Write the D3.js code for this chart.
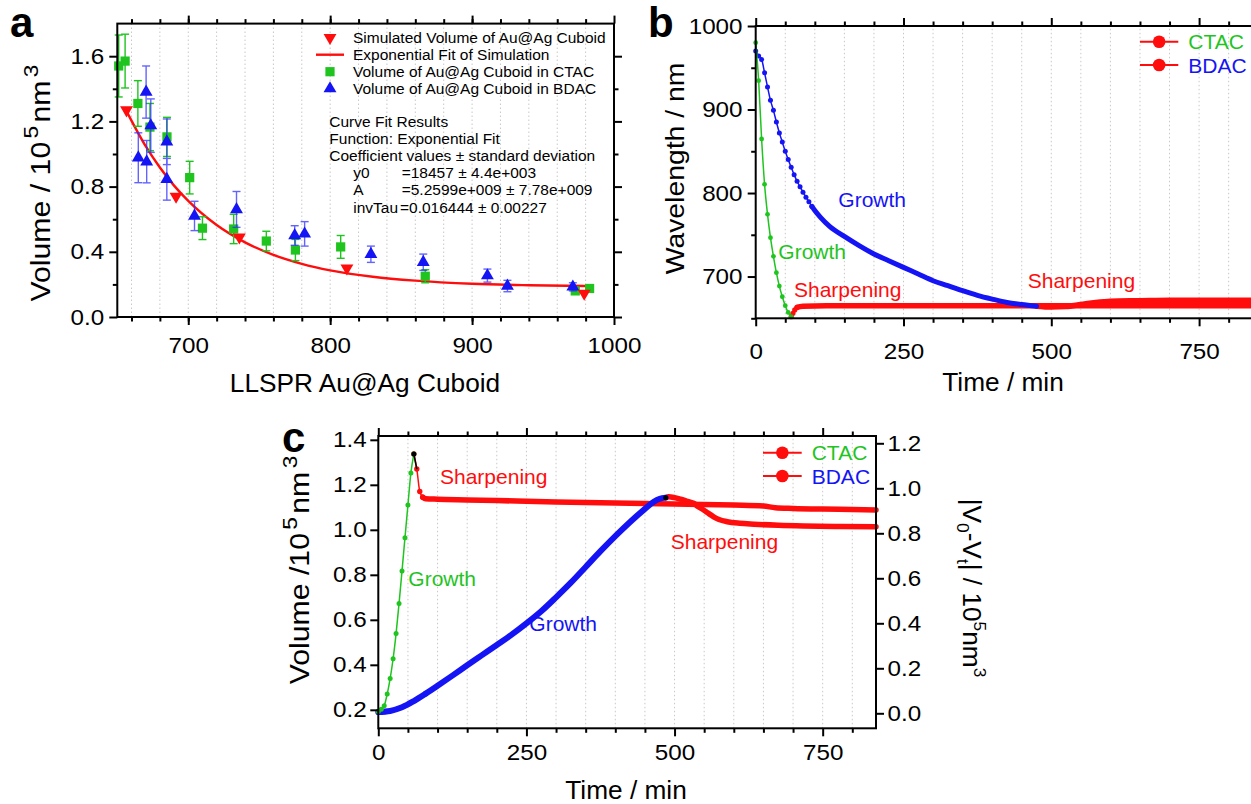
<!DOCTYPE html>
<html><head><meta charset="utf-8">
<script src="https://cdn.jsdelivr.net/npm/d3@7"></script>
<style>body{margin:0;background:#fff;}svg{display:block;}</style>
</head><body>
<svg id="chart" width="1251" height="804"></svg>
<script>
// ================= Panel a data =================
const simLspr   = [656.5, 691.4, 736, 811.8, 979];
const simVolume = [1.27, 0.74, 0.49, 0.30, 0.145];
const fitLspr   = [656, 670, 680, 690, 700, 720, 740, 760, 780, 800, 830, 860, 900, 940, 980];
const fitVolume = [1.271, 1.048, 0.917, 0.806, 0.712, 0.564, 0.458, 0.381, 0.326, 0.286, 0.247, 0.223, 0.204, 0.195, 0.190];
const ctacLspr   = [651, 655.5, 664.5, 673, 685, 701, 710, 732, 755, 775.5, 807.4, 867, 972.7, 982.8];
const ctacVolume = [1.54, 1.57, 1.31, 1.165, 1.105, 0.855, 0.545, 0.54, 0.466, 0.411, 0.43, 0.25, 0.16, 0.175];
const ctacErr    = [0.19, 0.165, 0.14, 0.145, 0.12, 0.10, 0.07, 0.09, 0.06, 0.065, 0.07, 0.04, 0.02, 0.02];
const bdacLspr   = [664.8, 670.3, 670.7, 673.6, 684.9, 684.9, 704.4, 734, 775, 782, 828.7, 865.6, 910.8, 924.9, 971];
const bdacVolume = [0.977, 1.38, 0.953, 1.174, 1.075, 0.845, 0.62, 0.66, 0.50, 0.51, 0.385, 0.336, 0.254, 0.19, 0.185];
const bdacErr    = [0.153, 0.16, 0.13, 0.164, 0.14, 0.128, 0.09, 0.11, 0.06, 0.075, 0.05, 0.05, 0.04, 0.035, 0.025];
const aXTicks = [700, 800, 900, 1000];
const aXMinor = [660, 680, 700, 720, 740, 760, 780, 800, 820, 840, 860, 880, 900, 920, 940, 960, 980];
const aYTicks = [0.0, 0.4, 0.8, 1.2, 1.6];
const aYMinor = [0.2, 0.6, 1.0, 1.4];
const legendA = ["Simulated Volume of Au@Ag Cuboid", "Exponential Fit of Simulation",
                 "Volume of Au@Ag Cuboid in CTAC", "Volume of Au@Ag Cuboid in BDAC"];
const fitHeader = ["Curve Fit Results", "Function: Exponential Fit", "Coefficient values \u00b1 standard deviation"];
const fitNames  = ["y0", "A", "invTau"];
const fitValues = ["=18457 \u00b1 4.4e+003", "=5.2599e+009 \u00b1 7.78e+009", "=0.016444 \u00b1 0.00227"];

// ================= Panel b data (wavelength / nm vs time / min) =================
const ctacTimeB = [0, 5, 10, 15, 20, 25, 30, 35, 40, 45, 50, 55, 60];
const ctacWlB   = [980, 934.5, 864.7, 810.4, 774.5, 746.5, 724.2, 704.6, 688.6, 675.8, 665.1, 657, 652];
const bdacTimeB1 = [0, 5, 10, 15, 20, 25, 30, 35, 40, 45, 50, 55, 60, 65, 70, 75, 80, 85, 90, 95];
const bdacWlB1   = [970, 964, 960, 944, 927, 911, 899, 885, 872, 861, 850, 840, 831, 822, 814, 807.5, 801, 795, 789.5, 784];
const bdacTimeB2 = [95, 100, 110, 125, 150, 175, 200, 225, 250, 275, 300, 325, 350, 375, 400, 425, 450, 475];
const bdacWlB2   = [784, 779, 770.5, 760, 748, 737, 727, 719, 711, 703, 695, 689, 683, 677.5, 673, 669, 666.5, 664.5];
const ctacSharpTimeB = [60, 63, 66, 70, 75, 80, 120, 200, 300, 400, 500, 600, 700, 840];
const ctacSharpWlB   = [652, 656, 660, 663, 664, 664.5, 665, 665, 665, 665, 665, 665, 665, 665];
const bdacSharpTimeB = [475, 500, 525, 550, 575, 600, 650, 700, 750, 800, 840];
const bdacSharpWlB   = [664.5, 663.5, 664, 666.5, 669, 670.5, 671, 671.5, 671.5, 671.5, 671.5];
const bXTicks = [0, 250, 500, 750];
const bXMinor = [50, 100, 150, 200, 300, 350, 400, 450, 550, 600, 650, 700, 800];
const bYTicks = [700, 800, 900, 1000];
const bYMinor = [650, 750, 850, 950];

// ================= Panel c data (volume / 1e5 nm^3 vs time / min) =================
const ctacTimeC = [0, 5, 10, 15, 20, 25, 30, 35, 40, 45, 50, 55, 60];
const ctacVolC  = [0.192, 0.202, 0.218, 0.270, 0.339, 0.427, 0.539, 0.672, 0.817, 0.965, 1.110, 1.253, 1.337];
const ctacSharpTimeC = [60, 65, 70, 75, 80, 100, 150, 200, 300, 400, 500, 600, 650, 670, 700, 750, 800, 840];
const ctacSharpVolC  = [1.337, 1.27, 1.17, 1.145, 1.138, 1.136, 1.133, 1.130, 1.124, 1.119, 1.115, 1.110, 1.106, 1.098, 1.095, 1.092, 1.090, 1.088];
const bdacTimeC = [0, 20, 40, 60, 80, 100, 125, 150, 175, 200, 225, 250, 275, 300, 325, 350, 375, 400, 425, 450, 465, 475, 485];
const bdacVolC  = [0.190, 0.195, 0.211, 0.239, 0.272, 0.307, 0.352, 0.398, 0.443, 0.488, 0.534, 0.584, 0.638, 0.700, 0.765, 0.835, 0.905, 0.972, 1.035, 1.093, 1.125, 1.138, 1.143];
const bdacSharpTimeC = [485, 490, 500, 510, 520, 532, 540, 549, 558, 566, 575, 589, 610, 634, 675, 718, 780, 840];
const bdacSharpVolC  = [1.143, 1.147, 1.143, 1.136, 1.128, 1.118, 1.103, 1.088, 1.072, 1.058, 1.046, 1.036, 1.029, 1.025, 1.020, 1.017, 1.015, 1.014];
const V0 = 0.18457; // right axis |V0-Vt| = volume - V0
const cXTicks = [0, 250, 500, 750];
const cXMinor = [50, 100, 150, 200, 300, 350, 400, 450, 550, 600, 650, 700, 800];
const cYTicks = [0.2, 0.4, 0.6, 0.8, 1.0, 1.2, 1.4];
const cY2Ticks = [0.0, 0.2, 0.4, 0.6, 0.8, 1.0, 1.2];
const seriesNames = ["CTAC", "BDAC"];

// ================= drawing =================
const svg = d3.select("#chart");
const FONT = "'Liberation Sans', Arial, Helvetica, sans-serif";
const RED = "#ff0d0d", GREEN = "#1fc41f", BLUE = "#1414f5";
const TICK_FS = 22, TICK_SX = 1.1, MAJ = 8, MIN = 4.5;

function T(parent, x, y, str, o = {}) {
  const F = o.size || 20;
  const t = parent.append("text")
    .attr("transform", `translate(${x},${y})` + (o.rotate ? ` rotate(${o.rotate})` : "") + ` scale(${o.sx || 1},1)`)
    .attr("font-family", FONT).attr("font-size", F)
    .attr("text-anchor", o.anchor || "start").attr("fill", o.fill || "#000");
  if (o.weight) t.attr("font-weight", o.weight);
  if (Array.isArray(str)) {
    let cur = 0;
    const gap = o.gap || 0;
    str.forEach(([s, k]) => {
      const ts = t.append("tspan").text(s);
      const target = k === "sup" ? -0.45 * F : k === "sub" ? 0.22 * F : 0;
      ts.attr("dy", target - cur); cur = target;
      if (k !== "n") ts.attr("font-size", (o.supScale || 0.66) * F);
      if (k === "sup" || (k === "n" && gap && ts.node().previousSibling)) ts.attr("dx", k === "sup" ? gap : gap);
    });
  } else t.text(str);
  return t;
}

function ax(g, gen, tr, vals, len, fmt, pad) {
  const a = g.append("g").attr("transform", tr)
    .call(gen.tickValues(vals).tickSize(len).tickSizeOuter(0).tickPadding(pad || 3).tickFormat(fmt || (() => "")));
  a.select(".domain").remove();
  a.selectAll("line").attr("stroke", "#000").attr("stroke-width", 2);
  a.selectAll("text").attr("font-family", FONT).attr("font-size", TICK_FS).attr("fill", "#000")
    .attr("transform", `scale(${TICK_SX},1)`);
  return a;
}

function grid(g, x, y, vals) {
  g.append("g").selectAll("line").data(vals).join("line")
    .attr("x1", d => x(d)).attr("x2", d => x(d))
    .attr("y1", y.range()[0]).attr("y2", y.range()[1])
    .attr("stroke", "#c8c8c8").attr("stroke-width", 1).attr("stroke-dasharray", "1.5,2.5");
}

function frame(g, x, y) {
  const [x0, x1] = x.range(), [y0, y1] = y.range();
  g.append("rect").attr("x", x0).attr("y", y1).attr("width", x1 - x0).attr("height", y0 - y1)
    .attr("fill", "none").attr("stroke", "#000").attr("stroke-width", 2);
}

function series(g, x, y, ts, vs, color, o = {}) {
  const pts = d3.zip(ts, vs);
  const line = d3.line().curve(d3.curveMonotoneX).x(d => x(d[0])).y(d => y(d[1]));
  if (o.band !== undefined) {
    const bp = pts.filter(d => d[0] >= o.band);
    g.append("path").attr("d", line(bp)).attr("fill", "none").attr("stroke", color)
      .attr("stroke-width", o.bw || 5.5).attr("stroke-linejoin", "round").attr("stroke-linecap", "round");
  }
  g.append("path").attr("d", line(pts)).attr("fill", "none").attr("stroke", color).attr("stroke-width", 1.5);
  const dp = pts.filter(d => d[0] <= (o.dotsUntil !== undefined ? o.dotsUntil : Infinity));
  g.append("g").selectAll("circle").data(dp).join("circle")
    .attr("cx", d => x(d[0])).attr("cy", d => y(d[1])).attr("r", o.r || 2.4).attr("fill", color);
}

// ---------------- Panel a ----------------
const ga = svg.append("g");
const xa = d3.scaleLinear().domain([650, 1000]).range([117.3, 614]);
const ya = d3.scaleLinear().domain([0, 1.8]).range([317, 23.6]);
grid(ga, xa, ya, aXMinor);
ga.append("path").attr("d", d3.line().curve(d3.curveMonotoneX).x(d => xa(d[0])).y(d => ya(d[1]))(d3.zip(fitLspr, fitVolume)))
  .attr("fill", "none").attr("stroke", RED).attr("stroke-width", 2.4);

const symSq = d3.symbol().type(d3.symbolSquare).size(85);
const symTri = d3.symbol().type(d3.symbolTriangle).size(72);
function errBars(g, xs, ys, es, color, op) {
  const d = d3.zip(xs, ys, es);
  const eg = g.append("g").attr("stroke", color).attr("stroke-width", 1.4).attr("opacity", op);
  eg.selectAll(".v").data(d).join("line").attr("x1", e => xa(e[0])).attr("x2", e => xa(e[0]))
    .attr("y1", e => ya(e[1] - e[2])).attr("y2", e => ya(e[1] + e[2]));
  eg.selectAll(".t").data(d).join("line").attr("x1", e => xa(e[0]) - 4).attr("x2", e => xa(e[0]) + 4)
    .attr("y1", e => ya(e[1] + e[2])).attr("y2", e => ya(e[1] + e[2]));
  eg.selectAll(".b").data(d).join("line").attr("x1", e => xa(e[0]) - 4).attr("x2", e => xa(e[0]) + 4)
    .attr("y1", e => ya(e[1] - e[2])).attr("y2", e => ya(e[1] - e[2]));
}
errBars(ga, ctacLspr, ctacVolume, ctacErr, GREEN, 1);
ga.append("g").selectAll("path").data(d3.zip(ctacLspr, ctacVolume)).join("path")
  .attr("d", symSq).attr("transform", d => `translate(${xa(d[0])},${ya(d[1])})`).attr("fill", GREEN);
errBars(ga, bdacLspr, bdacVolume, bdacErr, "#3030ff", 0.75);
ga.append("g").selectAll("path").data(d3.zip(bdacLspr, bdacVolume)).join("path")
  .attr("d", symTri).attr("transform", d => `translate(${xa(d[0])},${ya(d[1])})`).attr("fill", BLUE);
ga.append("g").selectAll("path").data(d3.zip(simLspr, simVolume)).join("path")
  .attr("d", symTri).attr("transform", d => `translate(${xa(d[0])},${ya(d[1])}) rotate(180)`).attr("fill", RED);

frame(ga, xa, ya);
ax(ga, d3.axisBottom(xa), `translate(0,317)`, aXMinor, MIN);
ax(ga, d3.axisBottom(xa), `translate(0,317)`, aXTicks, MAJ, d => d, 12);
ax(ga, d3.axisTop(xa), `translate(0,23.6)`, aXMinor, MIN);
ax(ga, d3.axisTop(xa), `translate(0,23.6)`, aXTicks, MAJ);
ax(ga, d3.axisLeft(ya), `translate(117.3,0)`, aYMinor, MIN);
ax(ga, d3.axisLeft(ya), `translate(117.3,0)`, aYTicks, MAJ, d3.format(".1f"), 4);
ax(ga, d3.axisRight(ya), `translate(614,0)`, aYMinor, MIN);
ax(ga, d3.axisRight(ya), `translate(614,0)`, aYTicks, MAJ);

// legend a
const legY = [37.6, 54.7, 71.7, 88.6];
ga.append("path").attr("d", symTri).attr("transform", `translate(330,${legY[0]}) rotate(180)`).attr("fill", RED);
ga.append("line").attr("x1", 316).attr("x2", 344).attr("y1", legY[1]).attr("y2", legY[1]).attr("stroke", RED).attr("stroke-width", 2.4);
ga.append("path").attr("d", symSq).attr("transform", `translate(330,${legY[2]})`).attr("fill", GREEN);
ga.append("path").attr("d", symTri).attr("transform", `translate(330,${legY[3]})`).attr("fill", BLUE);
legendA.forEach((s, i) => T(ga, 353, legY[i] + 5.2, s, { size: 14.5, sx: 1.07 }));
const fitY = [121.7, 139, 156, 172.7, 190, 207.7];
fitHeader.forEach((s, i) => T(ga, 329.3, fitY[i] + 5.2, s, { size: 14.5, sx: 1.07 }));
fitNames.forEach((s, i) => T(ga, 353.3, fitY[i + 3] + 5.2, s, { size: 14.5, sx: 1.07 }));
fitValues.forEach((s, i) => T(ga, i === 2 ? 400 : 401.7, fitY[i + 3] + 5.2, s, { size: 14.5, sx: 1.07 }));

T(ga, 365, 392, "LLSPR Au@Ag Cuboid", { size: 25, sx: 1.05, anchor: "middle" });
T(ga, 50, 183, [["Volume / 10", "n"], ["5", "sup"], ["nm", "n"], ["3", "sup"]],
  { size: 27, sx: 1.12, anchor: "middle", rotate: -90, supScale: 0.75, gap: 3 });
T(ga, 10, 37, "a", { size: 42, weight: "bold" });

// ---------------- Panel b ----------------
const gb = svg.append("g");
const xb = d3.scaleLinear().domain([0, 840]).range([755.7, 1252.3]);
const yb = d3.scaleLinear().domain([650, 1000]).range([318.3, 26]);
grid(gb, xb, yb, bXMinor.concat([250, 500, 750]));
series(gb, xb, yb, ctacSharpTimeB, ctacSharpWlB, RED, { band: 70, bw: 5.5, dotsUntil: 70, r: 2.6 });
series(gb, xb, yb, bdacSharpTimeB, bdacSharpWlB, RED, { band: 475, bw: 5.5, dotsUntil: -1 });
series(gb, xb, yb, bdacTimeB2, bdacWlB2, BLUE, { band: 95, bw: 5, dotsUntil: -1 });
series(gb, xb, yb, bdacTimeB1, bdacWlB1, BLUE, { r: 2.5 });
series(gb, xb, yb, ctacTimeB, ctacWlB, GREEN, { r: 2.4 });
frame(gb, xb, yb);
ax(gb, d3.axisBottom(xb), `translate(0,318.3)`, bXMinor, MIN);
ax(gb, d3.axisBottom(xb), `translate(0,318.3)`, bXTicks, MAJ, d => d, 17);
ax(gb, d3.axisTop(xb), `translate(0,26)`, bXMinor, MIN);
ax(gb, d3.axisTop(xb), `translate(0,26)`, bXTicks, MAJ);
ax(gb, d3.axisLeft(yb), `translate(755.7,0)`, bYMinor, MIN);
ax(gb, d3.axisLeft(yb), `translate(755.7,0)`, bYTicks, MAJ, d => d, 4);

function legendBC(g, lx0, lx1, ys, tx) {
  const cols = [GREEN, BLUE];
  ys.forEach((yy, i) => {
    g.append("line").attr("x1", lx0).attr("x2", lx1).attr("y1", yy).attr("y2", yy).attr("stroke", RED).attr("stroke-width", 2);
    g.append("circle").attr("cx", (lx0 + lx1) / 2).attr("cy", yy).attr("r", 6.3).attr("fill", RED);
    T(g, tx, yy + 7.5, seriesNames[i], { size: 21, fill: cols[i] });
  });
}
legendBC(gb, 1140, 1178.3, [41.7, 65], 1188.3);
T(gb, 838.3, 206.5, "Growth", { size: 21, fill: BLUE });
T(gb, 778.3, 259, "Growth", { size: 21, fill: GREEN });
T(gb, 794, 296.7, "Sharpening", { size: 21, fill: RED });
T(gb, 1027.7, 287.7, "Sharpening", { size: 21, fill: RED });
T(gb, 1003, 391, "Time / min", { size: 25, sx: 1.05, anchor: "middle" });
T(gb, 684, 168.5, "Wavelength / nm", { size: 26, sx: 1.09, anchor: "middle", rotate: -90 });
T(gb, 648, 37, "b", { size: 42, weight: "bold" });

// ---------------- Panel c ----------------
const gc = svg.append("g");
const xc = d3.scaleLinear().domain([0, 840]).range([378.3, 876]);
const ycR = d3.scaleLinear().domain([-0.0667, 1.2324]).range([728.3, 436]);
const ycL = d3.scaleLinear().domain([-0.0667 + V0, 1.2324 + V0]).range([728.3, 436]);
grid(gc, xc, ycL, cXMinor.concat([250, 500, 750]));
series(gc, xc, ycL, bdacSharpTimeC, bdacSharpVolC, RED, { band: 485, bw: 5.5, dotsUntil: -1 });
series(gc, xc, ycL, ctacSharpTimeC, ctacSharpVolC, RED, { band: 75, bw: 5.5, dotsUntil: 75, r: 2.7 });
series(gc, xc, ycL, bdacTimeC, bdacVolC, BLUE, { band: 0, bw: 6, dotsUntil: -1 });
series(gc, xc, ycL, ctacTimeC, ctacVolC, GREEN, { r: 2.5 });
// transition points (black)
gc.append("path").attr("d", d3.line().x(d => xc(d[0])).y(d => ycL(d[1]))(d3.zip(ctacSharpTimeC, ctacSharpVolC).slice(0, 2)))
  .attr("stroke", "#000").attr("stroke-width", 1.5).attr("fill", "none");
gc.append("circle").attr("cx", xc(ctacSharpTimeC[0])).attr("cy", ycL(ctacSharpVolC[0])).attr("r", 2.5).attr("fill", "#000");
gc.append("circle").attr("cx", xc(bdacSharpTimeC[0])).attr("cy", ycL(bdacSharpVolC[0])).attr("r", 2.5).attr("fill", "#000");
frame(gc, xc, ycL);
ax(gc, d3.axisBottom(xc), `translate(0,728.3)`, cXMinor, MIN);
ax(gc, d3.axisBottom(xc), `translate(0,728.3)`, cXTicks, MAJ, d => d, 8);
ax(gc, d3.axisTop(xc), `translate(0,436)`, cXMinor, MIN);
ax(gc, d3.axisTop(xc), `translate(0,436)`, cXTicks, MAJ);
ax(gc, d3.axisLeft(ycL), `translate(378.3,0)`, cYTicks, MAJ, d3.format(".1f"), 2.5);
ax(gc, d3.axisRight(ycR), `translate(876,0)`, cY2Ticks, MAJ, d3.format(".1f"), 2.5);
legendBC(gc, 763, 801.7, [452.7, 476], 811.7);
T(gc, 440, 484.3, "Sharpening", { size: 21, fill: RED });
T(gc, 408.3, 586, "Growth", { size: 21, fill: GREEN });
T(gc, 529.3, 631, "Growth", { size: 21, fill: BLUE });
T(gc, 670.7, 549, "Sharpening", { size: 21, fill: RED });
T(gc, 626, 799, "Time / min", { size: 25, sx: 1.05, anchor: "middle" });
T(gc, 309, 570, [["Volume /10", "n"], ["5", "sup"], ["nm", "n"], ["3", "sup"]],
  { size: 27, sx: 1.12, anchor: "middle", rotate: -90, supScale: 0.75, gap: 3 });
T(gc, 963, 588, [["|V", "n"], ["0", "sub"], ["-V", "n"], ["t", "sub"], ["| / 10", "n"], ["5", "sup"], ["nm", "n"], ["3", "sup"]],
  { size: 25, sx: 1.05, anchor: "middle", rotate: 90 });
T(gc, 282, 452, "c", { size: 42, weight: "bold" });
</script>
</body></html>
